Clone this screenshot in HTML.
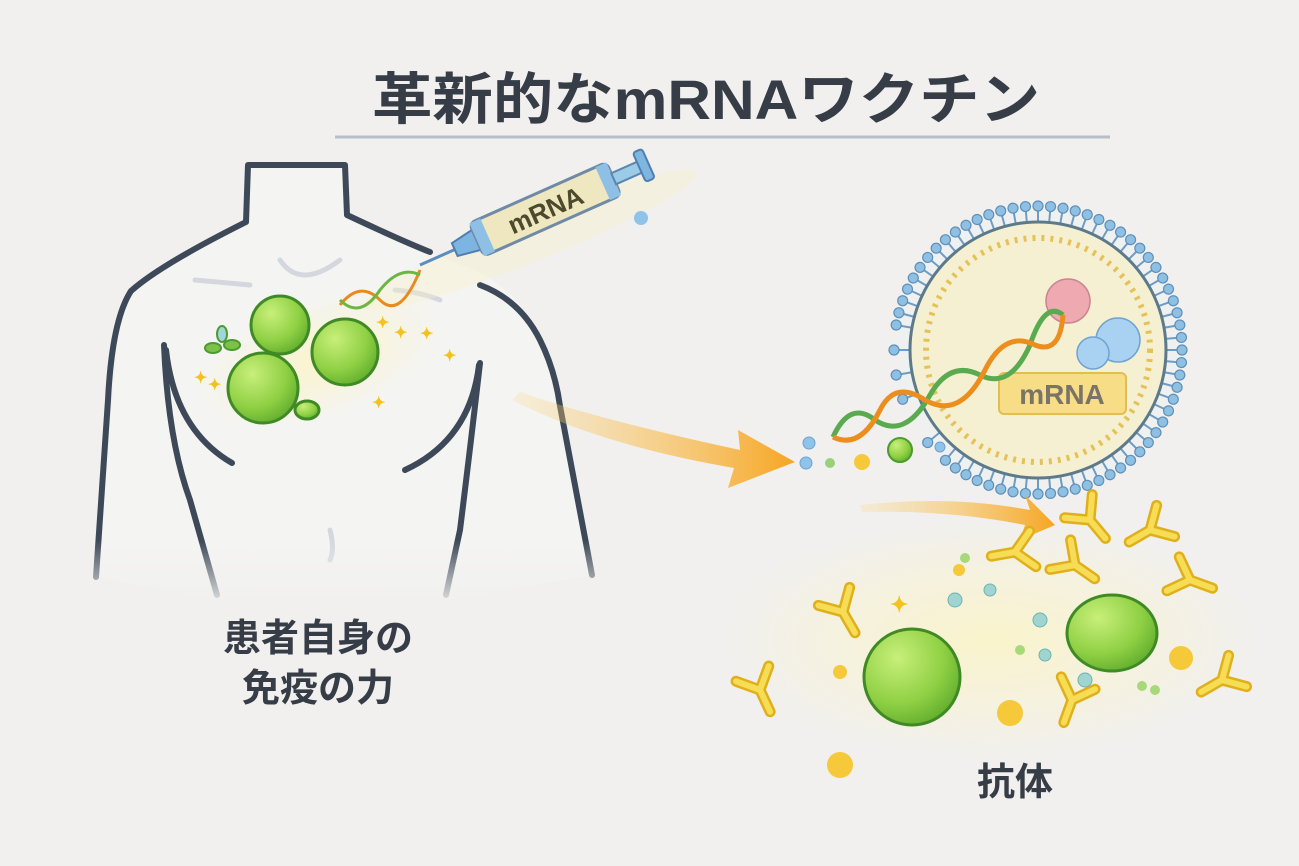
<!DOCTYPE html>
<html><head><meta charset="utf-8"><style>
html,body{margin:0;padding:0;width:1299px;height:866px;overflow:hidden;background:#f1f0ee}
svg{display:block}
text{font-family:"Liberation Sans","Noto Sans CJK JP",sans-serif;font-weight:bold;fill:#363d47}
</style></head><body>
<svg width="1299" height="866" viewBox="0 0 1299 866" xmlns="http://www.w3.org/2000/svg">
<defs>
<radialGradient id="g" cx="0.35" cy="0.3" r="0.8"><stop offset="0" stop-color="#c8ef7a"/><stop offset="0.6" stop-color="#8fd044"/><stop offset="1" stop-color="#5aa82a"/></radialGradient>
<radialGradient id="glow" cx="0.5" cy="0.5" r="0.5"><stop offset="0" stop-color="#fbf4c8" stop-opacity="0.9"/><stop offset="1" stop-color="#fbf4c8" stop-opacity="0"/></radialGradient>
<linearGradient id="arr" x1="0" x2="1"><stop offset="0" stop-color="#fbd27a" stop-opacity="0.2"/><stop offset="1" stop-color="#f6a623"/></linearGradient>
<linearGradient id="fade" x1="0" y1="0" x2="0" y2="1"><stop offset="0" stop-color="#f1f0ee" stop-opacity="0"/><stop offset="1" stop-color="#f1f0ee"/></linearGradient>
<g id="Y"><path d="M0 0 L0 24 M0 0 L-18 -18 M0 0 L18 -18" stroke="#e0b01a" stroke-width="11" stroke-linecap="round" fill="none"/><path d="M0 0 L0 24 M0 0 L-18 -18 M0 0 L18 -18" stroke="#f7dc55" stroke-width="6" stroke-linecap="round" fill="none"/></g>
<g id="spike"><line x1="0" y1="0" x2="0" y2="-14" stroke="#6f9cc4" stroke-width="2"/><circle cx="0" cy="-16" r="5" fill="#8dc0e3" stroke="#5f8fb8" stroke-width="1.2"/></g>
</defs>
<rect width="1299" height="866" fill="#f1f0ee"/>
<text x="372" y="119" font-size="56" textLength="668" lengthAdjust="spacingAndGlyphs">革新的なmRNAワクチン</text>
<line x1="335" y1="137" x2="1110" y2="137" stroke="#b9bfc8" stroke-width="3"/>
<path d="M96 577 L121 302 Q150 270 246 222 L248 165 L345 165 L347 215 Q420 250 470 268 Q545 300 560 406 L592 575 L450 600 L215 600 Z" fill="#f4f4f3"/>
<g fill="none" stroke="#3d4958" stroke-width="6" stroke-linecap="round" stroke-linejoin="round">
<path d="M96 577 L108 400 Q112 320 131 291 Q160 265 246 222 L248 165 L345 165 L347 215 Q400 240 430 252"/>
<path d="M480 285 Q520 300 540 340 Q555 370 560 406 L592 575"/>
<path d="M164 345 Q168 440 190 500 L217 595"/>
<path d="M166 350 Q175 430 232 463"/>
<path d="M480 363 Q470 450 460 530 L446 595"/>
<path d="M479 365 Q470 440 405 470"/>
</g>
<g fill="none" stroke="#d4d8de" stroke-width="5" stroke-linecap="round">
<path d="M280 260 Q300 290 340 260"/><path d="M195 280 L250 285"/><path d="M395 290 Q420 292 440 300"/>
<path d="M330 530 Q335 550 330 560"/>
</g>
<rect x="60" y="540" width="580" height="70" fill="url(#fade)"/>
<ellipse cx="320" cy="360" rx="130" ry="60" fill="url(#glow)" transform="rotate(-20 320 360)"/>
<ellipse cx="530" cy="240" rx="180" ry="22" fill="#f8f2c6" opacity="0.35" transform="rotate(-22 530 240)"/>
<g transform="translate(420,265) rotate(-24)">
<line x1="0" y1="0" x2="40" y2="0" stroke="#5b8dbf" stroke-width="3"/>
<path d="M38 -7 L62 -11 L62 11 L38 7 Z" fill="#7eb4e2" stroke="#4f7fae" stroke-width="2"/>
<rect x="62" y="-18" width="150" height="36" rx="6" fill="#efe7bf" stroke="#6f8aa6" stroke-width="3"/>
<rect x="62" y="-18" width="12" height="36" fill="#8ec0e6"/>
<rect x="200" y="-18" width="12" height="36" fill="#8ec0e6"/>
<text x="137" y="10" font-size="26" text-anchor="middle" style="fill:#4c4a2c">mRNA</text>
<rect x="212" y="-6" width="30" height="12" fill="#9ccbe8" stroke="#5a87b0" stroke-width="2"/>
<rect x="240" y="-16" width="10" height="32" rx="3" fill="#7fb6e0" stroke="#4f7fae" stroke-width="2"/>
</g>
<circle cx="641" cy="218" r="7" fill="#8ec3ea"/>
<path d="M340 305 Q360 280 380 300 Q400 320 420 270" fill="none" stroke="#e88a1e" stroke-width="3"/>
<path d="M340 300 Q360 320 380 290 Q400 265 420 275" fill="none" stroke="#6cb644" stroke-width="3"/>
<g stroke="#3f8a25" stroke-width="3">
<circle cx="280" cy="325" r="29" fill="url(#g)"/>
<circle cx="345" cy="352" r="33" fill="url(#g)"/>
<circle cx="263" cy="388" r="35" fill="url(#g)"/>
<ellipse cx="307" cy="410" rx="12" ry="9" fill="url(#g)"/>
</g>
<g fill="#7cc24a" stroke="#4d9a2f" stroke-width="2"><ellipse cx="213" cy="348" rx="8" ry="5"/><ellipse cx="232" cy="345" rx="8" ry="5"/><ellipse cx="222" cy="334" rx="5" ry="8" fill="#9fd6d8"/></g>
<g font-size="16"><text x="376" y="328" style="fill:#f3c21c">✦</text><text x="420" y="339" style="fill:#f3c21c">✦</text><text x="443" y="361" style="fill:#f3c21c">✦</text><text x="394" y="338" style="fill:#f3c21c">✦</text><text x="372" y="408" style="fill:#f3c21c">✦</text><text x="194" y="383" style="fill:#f3c21c">✦</text><text x="208" y="390" style="fill:#f3c21c">✦</text></g>
<path d="M520 392 Q600 420 740 450 L738 430 L795 462 L728 488 L734 468 Q600 445 512 400 Z" fill="url(#arr)"/>
<g transform="translate(1038,350)">
<circle r="140" fill="#eef2f4" opacity="0.6"/>
<use href="#spike" transform="rotate(0) translate(0,-128)"/><use href="#spike" transform="rotate(10) translate(0,-128)"/><use href="#spike" transform="rotate(20) translate(0,-128)"/><use href="#spike" transform="rotate(30) translate(0,-128)"/><use href="#spike" transform="rotate(40) translate(0,-128)"/><use href="#spike" transform="rotate(50) translate(0,-128)"/><use href="#spike" transform="rotate(60) translate(0,-128)"/><use href="#spike" transform="rotate(70) translate(0,-128)"/><use href="#spike" transform="rotate(80) translate(0,-128)"/><use href="#spike" transform="rotate(90) translate(0,-128)"/><use href="#spike" transform="rotate(100) translate(0,-128)"/><use href="#spike" transform="rotate(110) translate(0,-128)"/><use href="#spike" transform="rotate(120) translate(0,-128)"/><use href="#spike" transform="rotate(130) translate(0,-128)"/><use href="#spike" transform="rotate(140) translate(0,-128)"/><use href="#spike" transform="rotate(150) translate(0,-128)"/><use href="#spike" transform="rotate(160) translate(0,-128)"/><use href="#spike" transform="rotate(170) translate(0,-128)"/><use href="#spike" transform="rotate(180) translate(0,-128)"/><use href="#spike" transform="rotate(190) translate(0,-128)"/><use href="#spike" transform="rotate(200) translate(0,-128)"/><use href="#spike" transform="rotate(210) translate(0,-128)"/><use href="#spike" transform="rotate(220) translate(0,-128)"/><use href="#spike" transform="rotate(230) translate(0,-128)"/><use href="#spike" transform="rotate(250) translate(0,-128)"/><use href="#spike" transform="rotate(260) translate(0,-128)"/><use href="#spike" transform="rotate(270) translate(0,-128)"/><use href="#spike" transform="rotate(280) translate(0,-128)"/><use href="#spike" transform="rotate(290) translate(0,-128)"/><use href="#spike" transform="rotate(300) translate(0,-128)"/><use href="#spike" transform="rotate(310) translate(0,-128)"/><use href="#spike" transform="rotate(320) translate(0,-128)"/><use href="#spike" transform="rotate(330) translate(0,-128)"/><use href="#spike" transform="rotate(340) translate(0,-128)"/><use href="#spike" transform="rotate(350) translate(0,-128)"/>
<use href="#spike" transform="rotate(5) translate(0,-128)"/><use href="#spike" transform="rotate(15) translate(0,-128)"/><use href="#spike" transform="rotate(25) translate(0,-128)"/><use href="#spike" transform="rotate(35) translate(0,-128)"/><use href="#spike" transform="rotate(45) translate(0,-128)"/><use href="#spike" transform="rotate(55) translate(0,-128)"/><use href="#spike" transform="rotate(65) translate(0,-128)"/><use href="#spike" transform="rotate(75) translate(0,-128)"/><use href="#spike" transform="rotate(85) translate(0,-128)"/><use href="#spike" transform="rotate(95) translate(0,-128)"/><use href="#spike" transform="rotate(105) translate(0,-128)"/><use href="#spike" transform="rotate(115) translate(0,-128)"/><use href="#spike" transform="rotate(125) translate(0,-128)"/><use href="#spike" transform="rotate(135) translate(0,-128)"/><use href="#spike" transform="rotate(145) translate(0,-128)"/><use href="#spike" transform="rotate(155) translate(0,-128)"/><use href="#spike" transform="rotate(165) translate(0,-128)"/><use href="#spike" transform="rotate(175) translate(0,-128)"/><use href="#spike" transform="rotate(185) translate(0,-128)"/><use href="#spike" transform="rotate(195) translate(0,-128)"/><use href="#spike" transform="rotate(205) translate(0,-128)"/><use href="#spike" transform="rotate(215) translate(0,-128)"/><use href="#spike" transform="rotate(285) translate(0,-128)"/><use href="#spike" transform="rotate(295) translate(0,-128)"/><use href="#spike" transform="rotate(305) translate(0,-128)"/><use href="#spike" transform="rotate(315) translate(0,-128)"/><use href="#spike" transform="rotate(325) translate(0,-128)"/><use href="#spike" transform="rotate(335) translate(0,-128)"/><use href="#spike" transform="rotate(345) translate(0,-128)"/><use href="#spike" transform="rotate(355) translate(0,-128)"/>
<circle r="128" fill="#f6f0d2" stroke="#5c7a8a" stroke-width="3"/>
<circle r="112" fill="none" stroke="#e4c25a" stroke-width="6" stroke-dasharray="3 6"/>
</g>
<circle cx="1068" cy="301" r="22" fill="#eeaab0" stroke="#c98690" stroke-width="1.5"/>
<circle cx="1118" cy="340" r="22" fill="#a9d2f2" stroke="#6fa3d0" stroke-width="1.5"/>
<circle cx="1093" cy="353" r="16" fill="#a9d2f2" stroke="#6fa3d0" stroke-width="1.5"/>
<rect x="999" y="373" width="127" height="41" rx="5" fill="#f6dd86" stroke="#e2bd50" stroke-width="2"/>
<text x="1062" y="404" font-size="28" text-anchor="middle" style="fill:#7a7468">mRNA</text>
<path d="M833 437 Q850 400 875 420 Q905 440 930 395 Q950 360 980 375 Q1010 390 1030 345 Q1045 300 1063 315" fill="none" stroke="#5aaa50" stroke-width="5"/>
<path d="M833 437 Q860 450 880 410 Q895 380 925 400 Q960 420 985 370 Q1005 330 1035 345 Q1060 355 1063 315" fill="none" stroke="#ec8e1e" stroke-width="5"/>
<g fill="#8ec3ea" stroke="#6fa3d0"><circle cx="809" cy="443" r="6"/><circle cx="806" cy="463" r="6"/><circle cx="940" cy="447" r="5"/></g>
<circle cx="900" cy="450" r="12" fill="url(#g)" stroke="#4d9a2f" stroke-width="2"/>
<circle cx="862" cy="462" r="8" fill="#f5c93a"/>
<circle cx="830" cy="463" r="5" fill="#9bd07a"/>
<ellipse cx="990" cy="640" rx="270" ry="120" fill="url(#glow)"/>
<path d="M860 505 Q950 495 1030 510 L1025 495 L1055 525 L1020 540 L1025 525 Q950 510 862 512 Z" fill="url(#arr)"/>
<use href="#Y" transform="translate(843,612) rotate(-30)"/>
<use href="#Y" transform="translate(1090,520) rotate(-40)"/>
<use href="#Y" transform="translate(1150,530) rotate(60)"/>
<use href="#Y" transform="translate(1015,552) rotate(80)"/>
<use href="#Y" transform="translate(1075,565) rotate(-55)"/>
<use href="#Y" transform="translate(1190,580) rotate(-70)"/>
<use href="#Y" transform="translate(760,690) rotate(-25)"/>
<use href="#Y" transform="translate(1072,700) rotate(20)"/>
<use href="#Y" transform="translate(1222,680) rotate(60)"/>
<g stroke="#3f8a25" stroke-width="3">
<circle cx="912" cy="677" r="48" fill="url(#g)"/>
<ellipse cx="1112" cy="633" rx="45" ry="38" fill="url(#g)"/>
</g>
<g fill="#f5c93a"><circle cx="840" cy="765" r="13"/><circle cx="1010" cy="713" r="13"/><circle cx="1181" cy="658" r="12"/><circle cx="840" cy="672" r="7"/><circle cx="959" cy="570" r="6"/></g>
<g fill="#9fd5d0" stroke="#6fb2b0"><circle cx="1040" cy="620" r="7"/><circle cx="1045" cy="655" r="6"/><circle cx="990" cy="590" r="6"/><circle cx="1085" cy="680" r="7"/><circle cx="955" cy="600" r="7"/></g>
<g fill="#a7d97a"><circle cx="965" cy="558" r="5"/><circle cx="1020" cy="650" r="5"/><circle cx="1142" cy="686" r="5"/><circle cx="1155" cy="690" r="5"/></g>
<text x="890" y="612" font-size="22" style="fill:#f3c21c">✦</text>
<text x="318" y="651" font-size="38" text-anchor="middle">患者自身の</text>
<text x="318" y="701" font-size="38" text-anchor="middle">免疫の力</text>
<text x="1015" y="795" font-size="38" text-anchor="middle">抗体</text>
</svg>
</body></html>
